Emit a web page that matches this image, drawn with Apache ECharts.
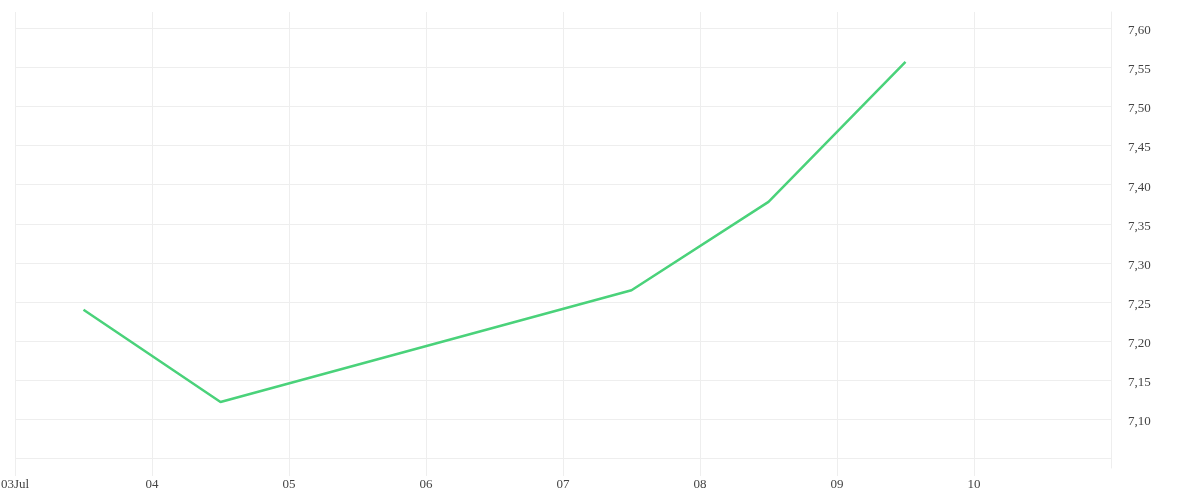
<!DOCTYPE html>
<html>
<head>
<meta charset="utf-8">
<script src="https://cdn.jsdelivr.net/npm/echarts@6/dist/echarts.min.js"></script>
<style>html,body{margin:0;padding:0;background:#fff}#c{width:1200px;height:500px}</style>
</head>
<body>
<div id="c"></div>
<script>
const times = ['2023-07-03T12:00:00', '2023-07-04T12:00:00', '2023-07-07T12:00:00', '2023-07-08T12:00:00', '2023-07-09T12:00:00'];
const values = [7.240, 7.122, 7.265, 7.378, 7.557];
const xRange = ['2023-07-03T00:00:00', '2023-07-11T00:00:00'];
const yRange = [7.0377, 7.6208];
const yLabelRange = [7.1, 7.6];

const chart = echarts.init(document.getElementById('c'), null, {renderer: 'canvas'});
const fontFamily = '"Liberation Serif", "DejaVu Serif", serif';
chart.setOption({
  animation: false,
  backgroundColor: '#ffffff',
  grid: {left: 15, right: 89, top: 12, bottom: 32, containLabel: false, outerBoundsMode: 'none'},
  xAxis: {
    type: 'time',
    min: new Date(xRange[0]).getTime(),
    max: new Date(xRange[1]).getTime(),
    minInterval: 24 * 3600 * 1000,
    maxInterval: 24 * 3600 * 1000,
    splitNumber: 8,
    axisLine: {show: false},
    axisTick: {show: true, length: 8, inside: false, lineStyle: {color: '#eeeeee'}},
    splitLine: {show: true, lineStyle: {color: '#eeeeee', width: 1}},
    axisLabel: {
      color: '#444',
      fontFamily: fontFamily,
      fontSize: 13,
      margin: 10,
      showMaxLabel: false,
      hideOverlap: false,
      formatter: function (v) {
        const d = new Date(v);
        const dd = String(d.getDate()).padStart(2, '0');
        if (d.getDate() === 3) return dd + 'Jul';
        return dd;
      }
    }
  },
  yAxis: {
    type: 'value',
    position: 'right',
    min: yRange[0],
    max: yRange[1],
    minInterval: 0.05,
    maxInterval: 0.05,
    splitNumber: 12,
    axisLine: {show: true, lineStyle: {color: '#eeeeee'}},
    axisTick: {show: false},
    splitLine: {show: true, showMinLine: false, showMaxLine: false, lineStyle: {color: '#eeeeee', width: 1}},
    axisLabel: {
      color: '#444',
      fontFamily: fontFamily,
      fontSize: 13,
      margin: 17,
      showMinLabel: false,
      showMaxLabel: false,
      rich: {
        v: {color: '#444', fontFamily: fontFamily, fontSize: 13, padding: [5, 0, 0, 0]}
      },
      formatter: function (v) {
        if (v < yLabelRange[0] - 1e-6 || v > yLabelRange[1] + 1e-6) return '';
        return '{v|' + v.toFixed(2).replace('.', ',') + '}';
      }
    }
  },
  series: [{
    type: 'line',
    data: times.map((t, i) => [new Date(t).getTime(), values[i]]),
    showSymbol: false,
    symbol: 'none',
    lineStyle: {color: '#4ad27a', width: 2.5},
    itemStyle: {color: '#4ad27a'}
  }]
});
</script>
</body>
</html>
